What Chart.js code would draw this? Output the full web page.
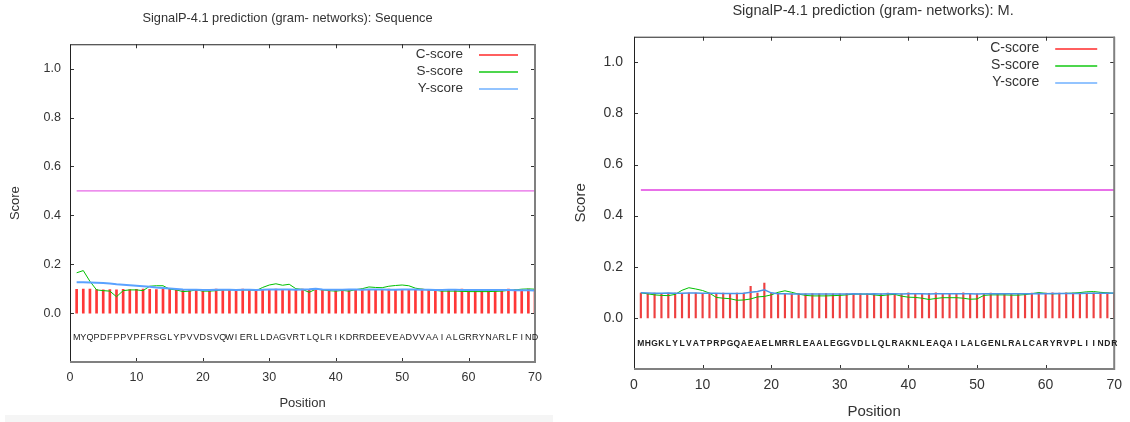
<!DOCTYPE html>
<html>
<head>
<meta charset="utf-8">
<script src="https://cdn.jsdelivr.net/npm/chart.js@4/dist/chart.umd.min.js"></script>
<style>
    body { margin: 0; background: #fff; width: 1130px; height: 422px; overflow: hidden; position: relative; }
    canvas { position: absolute; top: 0; }
    #chart01 { left: 0; }
    #chart02 { left: 570px; }
    #band { position: absolute; left: 5px; top: 415px; width: 548px; height: 7px; background: #f5f5f5; }
</style>
</head>
<body>
<div id="band"></div>
<canvas id="chart01" width="560" height="422"></canvas>
<canvas id="chart02" width="560" height="422"></canvas>
<script>
const FONT = "'Liberation Sans', Arial, sans-serif";

// left plot: "Sequence"
const seq_left = 'MYQPDFPPVPFRSGLYPVVDSVQWIERLLDAGVRTLQLRIKDRRDEEVEADVVAAIALGRRYNARLFIND'.split('');
const c_left = [
    0.097, 0.098, 0.098, 0.096, 0.095, 0.096, 0.095, 0.097, 0.096, 0.097,
    0.098, 0.097, 0.096, 0.097, 0.098, 0.097, 0.096, 0.097, 0.097, 0.096,
    0.097, 0.098, 0.097, 0.096, 0.097, 0.098, 0.097, 0.097, 0.096, 0.097,
    0.098, 0.097, 0.096, 0.097, 0.098, 0.097, 0.101, 0.097, 0.096, 0.097,
    0.097, 0.096, 0.097, 0.098, 0.097, 0.096, 0.097, 0.098, 0.097, 0.097,
    0.096, 0.097, 0.098, 0.096, 0.097, 0.097, 0.096, 0.097, 0.098, 0.097,
    0.096, 0.097, 0.097, 0.096, 0.097, 0.098, 0.096, 0.095, 0.098, 0.097
];
const s_left = [
    0.165, 0.174, 0.130, 0.095, 0.092, 0.090, 0.067, 0.092, 0.095, 0.095,
    0.092, 0.110, 0.112, 0.112, 0.098, 0.095, 0.088, 0.090, 0.095, 0.090,
    0.090, 0.092, 0.095, 0.095, 0.095, 0.095, 0.095, 0.092, 0.105, 0.115,
    0.120, 0.114, 0.118, 0.100, 0.097, 0.085, 0.098, 0.095, 0.092, 0.090,
    0.093, 0.090, 0.096, 0.100, 0.107, 0.105, 0.104, 0.110, 0.113, 0.115,
    0.112, 0.102, 0.098, 0.095, 0.093, 0.090, 0.090, 0.090, 0.089, 0.088,
    0.088, 0.088, 0.088, 0.089, 0.090, 0.093, 0.095, 0.098, 0.099, 0.098
];
const y_left = [
    0.126, 0.126, 0.125, 0.124, 0.123, 0.121, 0.118, 0.116, 0.114, 0.112,
    0.110, 0.108, 0.105, 0.103, 0.101, 0.099, 0.097, 0.096, 0.096, 0.095,
    0.095, 0.096, 0.096, 0.096, 0.095, 0.096, 0.096, 0.095, 0.096, 0.097,
    0.097, 0.097, 0.097, 0.096, 0.097, 0.098, 0.100, 0.097, 0.096, 0.096,
    0.096, 0.097, 0.097, 0.096, 0.097, 0.097, 0.097, 0.096, 0.096, 0.097,
    0.097, 0.097, 0.096, 0.096, 0.095, 0.095, 0.096, 0.096, 0.095, 0.095,
    0.095, 0.095, 0.095, 0.095, 0.095, 0.095, 0.094, 0.094, 0.094, 0.093
];

// right plot: "M."
const seq_right = 'MHGKLYLVATPRPGQAEAELMRRLEAALEGGVDLLQLRAKNLEAQAILALGENLRALCARYRVPLIINDR'.split('');
const c_right = [
    0.097, 0.096, 0.097, 0.096, 0.097, 0.097, 0.096, 0.097, 0.097, 0.096,
    0.097, 0.096, 0.097, 0.096, 0.097, 0.097, 0.123, 0.097, 0.136, 0.096,
    0.094, 0.095, 0.094, 0.095, 0.094, 0.095, 0.094, 0.095, 0.094, 0.094,
    0.095, 0.094, 0.095, 0.094, 0.095, 0.094, 0.097, 0.095, 0.094, 0.098,
    0.095, 0.094, 0.096, 0.098, 0.095, 0.094, 0.096, 0.098, 0.095, 0.094,
    0.096, 0.097, 0.095, 0.096, 0.095, 0.096, 0.095, 0.097, 0.100, 0.097,
    0.098, 0.097, 0.098, 0.097, 0.098, 0.097, 0.098, 0.099, 0.098, 0.097
];
const s_right = [
    0.098, 0.094, 0.090, 0.088, 0.087, 0.092, 0.108, 0.118, 0.113, 0.107,
    0.097, 0.080, 0.077, 0.075, 0.069, 0.070, 0.074, 0.082, 0.084, 0.090,
    0.100, 0.106, 0.100, 0.093, 0.088, 0.086, 0.086, 0.086, 0.087, 0.088,
    0.090, 0.093, 0.093, 0.093, 0.090, 0.087, 0.090, 0.092, 0.085, 0.081,
    0.080, 0.077, 0.072, 0.076, 0.079, 0.079, 0.079, 0.077, 0.073, 0.074,
    0.088, 0.090, 0.090, 0.090, 0.089, 0.089, 0.091, 0.095, 0.099, 0.096,
    0.094, 0.095, 0.096, 0.097, 0.099, 0.102, 0.103, 0.100, 0.098, 0.096
];
const y_right = [
    0.098, 0.097, 0.096, 0.096, 0.097, 0.096, 0.096, 0.097, 0.097, 0.096,
    0.096, 0.096, 0.095, 0.095, 0.095, 0.096, 0.100, 0.103, 0.110, 0.098,
    0.094, 0.094, 0.093, 0.093, 0.093, 0.093, 0.093, 0.093, 0.093, 0.093,
    0.093, 0.094, 0.093, 0.093, 0.094, 0.093, 0.094, 0.094, 0.093, 0.094,
    0.094, 0.094, 0.093, 0.094, 0.094, 0.094, 0.094, 0.094, 0.094, 0.093,
    0.094, 0.094, 0.094, 0.094, 0.094, 0.094, 0.094, 0.094, 0.095, 0.094,
    0.095, 0.095, 0.095, 0.095, 0.095, 0.096, 0.096, 0.096, 0.096, 0.097
];

const threshold = 0.5;
const x_ticks = [0, 10, 20, 30, 40, 50, 60, 70];
const y_ticks = [0.0, 0.2, 0.4, 0.6, 0.8, 1.0];

const points = vals => vals.map((v, i) => ({x: i + 1, y: v}));

// gnuplot look: mirrored inward ticks, border, sequence letters, key on the right
const gnuplot = {
    id: 'gp',
    afterLayout(chart, args, o) {
        // gnuplot centres the title on its canvas, not on the plot
        chart.titleBlock.left += o.titleShift * 2;
    },
    afterDatasetsDraw(chart, args, o) {
        const {ctx, chartArea: a, scales: {x, y}} = chart;
        ctx.save();
        ctx.strokeStyle = '#333';
        ctx.lineWidth = 1;
        ctx.beginPath();
        x.ticks.forEach(t => {
            const px = Math.round(x.getPixelForValue(t.value)) + 0.5;
            ctx.moveTo(px, a.bottom); ctx.lineTo(px, a.bottom - o.tickLen);
            ctx.moveTo(px, a.top); ctx.lineTo(px, a.top + o.tickLen);
        });
        y.ticks.forEach(t => {
            const py = Math.round(y.getPixelForValue(t.value)) + 0.5;
            ctx.moveTo(a.left, py); ctx.lineTo(a.left + o.tickLen, py);
            ctx.moveTo(a.right, py); ctx.lineTo(a.right - o.tickLen, py);
        });
        ctx.stroke();

        // border
        ctx.strokeStyle = '#222';
        ctx.beginPath();
        ctx.moveTo(a.left + 0.5, a.bottom); ctx.lineTo(a.left + 0.5, a.top + 0.5); ctx.lineTo(a.right, a.top + 0.5);
        ctx.stroke();
        ctx.strokeStyle = '#808080';
        ctx.lineWidth = 2;
        ctx.beginPath();
        ctx.moveTo(a.right, a.top); ctx.lineTo(a.right, a.bottom); ctx.lineTo(a.left, a.bottom);
        ctx.stroke();

        // residue letters
        ctx.font = o.seqFont;
        ctx.fillStyle = '#222';
        ctx.textAlign = 'center';
        ctx.textBaseline = 'middle';
        const ly = y.getPixelForValue(o.seqY);
        o.seq.forEach((ch, i) => ctx.fillText(ch, x.getPixelForValue(i + 1), ly));

        // key
        ctx.font = o.keyFont;
        ctx.fillStyle = '#333';
        ctx.textAlign = 'right';
        chart.data.datasets.filter(d => d.key).forEach((d, i) => {
            const ky = a.top + o.keyTop + i * o.keyStep;
            ctx.fillText(d.label, a.right - o.keyText, ky);
            ctx.strokeStyle = d.keyColor;
            ctx.lineWidth = o.keyWidth;
            ctx.beginPath();
            ctx.moveTo(a.right - o.keyLine[0], Math.round(ky) + 1);
            ctx.lineTo(a.right - o.keyLine[1], Math.round(ky) + 1);
            ctx.stroke();
        });
        ctx.restore();
    }
};

function chart(id, cfg) {
    const datasets = [
        {
            type: 'bar', label: 'C-score', key: true, keyColor: '#ff2a2a',
            data: points(cfg.c), backgroundColor: cfg.cColor, barThickness: cfg.cWidth, order: 4
        },
        {
            type: 'line', label: 'S-score', key: true, keyColor: '#12c812',
            data: points(cfg.s), borderColor: '#00c000', borderWidth: 1, pointRadius: 0, order: 3
        },
        {
            type: 'line', label: 'Y-score', key: true, keyColor: '#6fb0ff',
            data: points(cfg.y), borderColor: cfg.yColor, borderWidth: cfg.yWidth, pointRadius: 0, order: 2
        },
        {
            type: 'line', label: 'threshold',
            data: [{x: 1, y: threshold}, {x: cfg.seq.length, y: threshold}],
            borderColor: '#e040e0', borderWidth: cfg.tWidth, pointRadius: 0, order: 1
        }
    ];
    new Chart(document.getElementById(id), {
        type: 'line',
        data: {datasets: datasets},
        options: {
            responsive: false,
            animation: false,
            devicePixelRatio: 1,
            events: [],
            layout: {padding: {left: 0, right: cfg.padRight, top: 0, bottom: 0}},
            plugins: {
                legend: {display: false},
                tooltip: {enabled: false},
                title: {
                    display: true,
                    text: cfg.title,
                    fullSize: false,
                    color: '#333',
                    font: {family: FONT, size: cfg.titleSize, weight: 'normal'},
                    padding: cfg.titlePad
                },
                gp: cfg.gp
            },
            scales: {
                x: {
                    type: 'linear', min: 0, max: 70, offset: false,
                    grid: {display: false, drawTicks: false},
                    border: {display: false},
                    afterBuildTicks: s => { s.ticks = x_ticks.map(v => ({value: v})); },
                    ticks: {padding: cfg.xPad, color: '#333', maxRotation: 0, font: {family: FONT, size: cfg.tickSize}},
                    title: {display: true, text: 'Position', color: '#333', font: {family: FONT, size: cfg.labelSize}, padding: {top: 0, bottom: cfg.posPad}},
                    afterFit: s => { s.height = cfg.xHeight; }
                },
                y: {
                    type: 'linear', min: -0.2, max: 1.1,
                    grid: {display: false, drawTicks: false},
                    border: {display: false},
                    afterBuildTicks: s => { s.ticks = y_ticks.map(v => ({value: v})); },
                    ticks: {padding: cfg.yPad, color: '#333', font: {family: FONT, size: cfg.tickSize}, callback: v => v.toFixed(1)},
                    title: {display: true, text: 'Score', color: '#333', font: {family: FONT, size: cfg.labelSize}, padding: {top: cfg.scorePad, bottom: 0}},
                    afterFit: s => { s.width = cfg.yWidthPx; }
                }
            }
        },
        plugins: [gnuplot]
    });
}

chart('chart01', {
    title: 'SignalP-4.1 prediction (gram- networks): Sequence',
    seq: seq_left, c: c_left, s: s_left, y: y_left,
    cColor: 'rgba(255,20,20,0.85)', cWidth: 2, yColor: '#5aa2ff', yWidth: 2, tWidth: 1,
    padRight: 25, titleSize: 12.8, titlePad: {top: 11, bottom: 17.9},
    tickSize: 12.5, labelSize: 13, xPad: 8, posPad: 11, yPad: 9, scorePad: 8,
    xHeight: 60, yWidthPx: 70,
    gp: {titleShift: -15, tickLen: 4, seq: seq_left, seqY: -0.1, seqFont: `9px ${FONT}`,
         keyFont: `13.5px ${FONT}`, keyTop: 10, keyStep: 17, keyText: 72, keyLine: [56, 17], keyWidth: 1.5}
});

chart('chart02', {
    title: 'SignalP-4.1 prediction (gram- networks): M.',
    seq: seq_right, c: c_right, s: s_right, y: y_right,
    cColor: 'rgba(235,30,30,0.85)', cWidth: 1.5, yColor: '#4a94e8', yWidth: 1.5, tWidth: 1.5,
    padRight: 11, titleSize: 14.6, titlePad: {top: 2, bottom: 17.2},
    tickSize: 14, labelSize: 15, xPad: 8, posPad: 1.5, yPad: 11, scorePad: 2,
    xHeight: 53, yWidthPx: 64,
    gp: {titleShift: -1, tickLen: 4, seq: seq_right, seqY: -0.1, seqFont: `bold 8.5px ${FONT}`,
         keyFont: `14px ${FONT}`, keyTop: 11, keyStep: 17.3, keyText: 75, keyLine: [59, 17], keyWidth: 1.5}
});
</script>
</body>
</html>
